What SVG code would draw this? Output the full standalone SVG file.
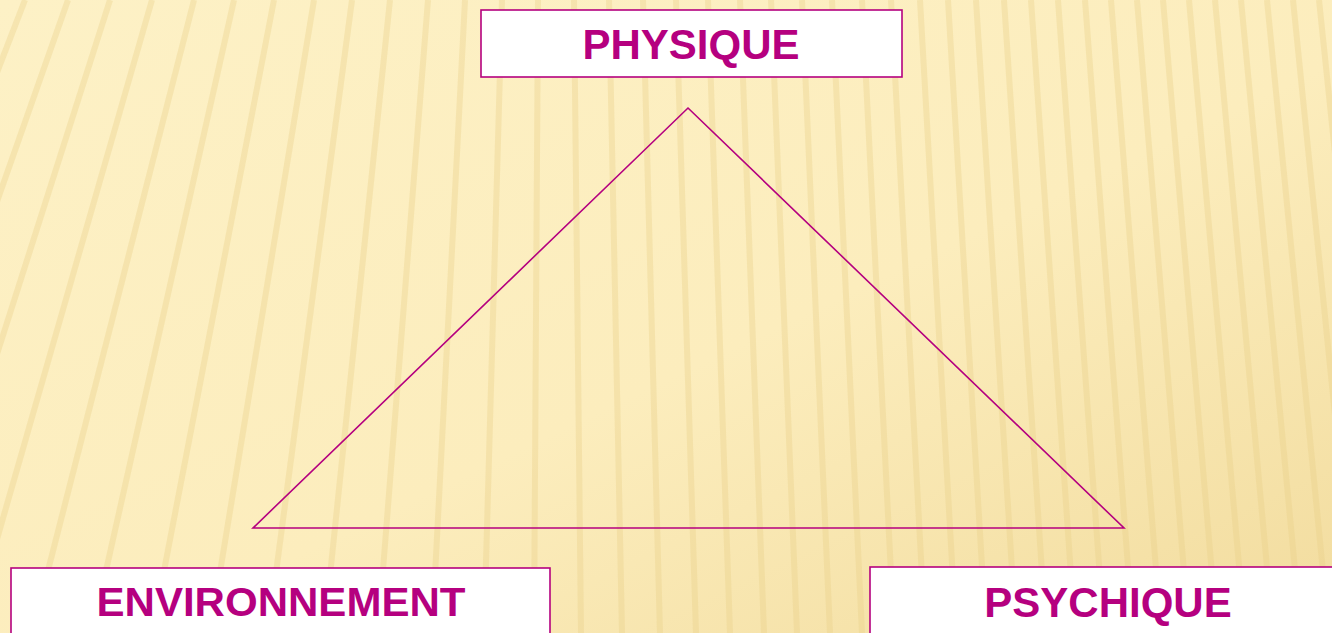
<svg xmlns="http://www.w3.org/2000/svg" width="1332" height="633" viewBox="0 0 1332 633">
<style>
.box{fill:#ffffff;stroke:#B5007F;stroke-width:1.6}
.lbl{font-family:"Liberation Sans",Arial,sans-serif;font-weight:bold;fill:#B5007F;text-anchor:middle}
.stripe{stroke:#E8CF86;stroke-opacity:0.35;stroke-width:6;fill:none}
.conn{fill:none;stroke:#B5007F;stroke-width:1.6}
</style>
<defs>
<linearGradient id="bg" x1="0" y1="0" x2="1" y2="1">
<stop offset="0" stop-color="#FDF1C6"/>
<stop offset="0.55" stop-color="#FCEDBD"/>
<stop offset="1" stop-color="#F2DC9E"/>
</linearGradient>
</defs>
<rect x="0" y="0" width="1332" height="633" fill="url(#bg)"/>
<g id="stripes">
<path class="stripe" d="M25,0 L-220,633"/>
<path class="stripe" d="M68,0 L-155,633"/>
<path class="stripe" d="M110,0 L-92,633"/>
<path class="stripe" d="M152,0 L-30,633"/>
<path class="stripe" d="M194,0 L32,633"/>
<path class="stripe" d="M234,0 L92,633"/>
<path class="stripe" d="M274,0 L152,633"/>
<path class="stripe" d="M314,0 L210,633"/>
<path class="stripe" d="M352,0 L268,633"/>
<path class="stripe" d="M390,0 L324,633"/>
<path class="stripe" d="M428,0 L378,633"/>
<path class="stripe" d="M465,0 L432,633"/>
<path class="stripe" d="M502,0 L484,633"/>
<path class="stripe" d="M538,0 L534,633"/>
<path class="stripe" d="M574,0 L581,633"/>
<path class="stripe" d="M609,0 L622,633"/>
<path class="stripe" d="M643,0 L660,633"/>
<path class="stripe" d="M676,0 L696,633"/>
<path class="stripe" d="M708,0 L730,633"/>
<path class="stripe" d="M740,0 L764,633"/>
<path class="stripe" d="M771,0 L797,633"/>
<path class="stripe" d="M802,0 L830,633"/>
<path class="stripe" d="M832,0 L862,633"/>
<path class="stripe" d="M862,0 L894,633"/>
<path class="stripe" d="M891,0 L925,633"/>
<path class="stripe" d="M920,0 L956,633"/>
<path class="stripe" d="M948,0 L986,633"/>
<path class="stripe" d="M976,0 L1016,633"/>
<path class="stripe" d="M1004,0 L1046,633"/>
<path class="stripe" d="M1031,0 L1075,633"/>
<path class="stripe" d="M1058,0 L1104,633"/>
<path class="stripe" d="M1085,0 L1133,633"/>
<path class="stripe" d="M1111,0 L1161,633"/>
<path class="stripe" d="M1137,0 L1189,633"/>
<path class="stripe" d="M1163,0 L1217,633"/>
<path class="stripe" d="M1189,0 L1245,633"/>
<path class="stripe" d="M1215,0 L1273,633"/>
<path class="stripe" d="M1241,0 L1301,633"/>
<path class="stripe" d="M1267,0 L1329,633"/>
<path class="stripe" d="M1293,0 L1357,633"/>
<path class="stripe" d="M1319,0 L1385,633"/>
</g>
<g id="connectors">
<path class="conn" d="M688,108 L1124,528 L253,528 Z"/>
</g>
<g id="node-physique">
<rect class="box" x="481" y="10" width="421" height="67"/>
<text class="lbl" x="691" y="59" font-size="42">PHYSIQUE</text>
</g>
<g id="node-environnement">
<rect class="box" x="11" y="568" width="539" height="80"/>
<text class="lbl" x="281" y="616" font-size="41" textLength="369" lengthAdjust="spacingAndGlyphs">ENVIRONNEMENT</text>
</g>
<g id="node-psychique">
<rect class="box" x="870" y="567" width="480" height="80"/>
<text class="lbl" x="1108" y="617" font-size="42">PSYCHIQUE</text>
</g>
</svg>
